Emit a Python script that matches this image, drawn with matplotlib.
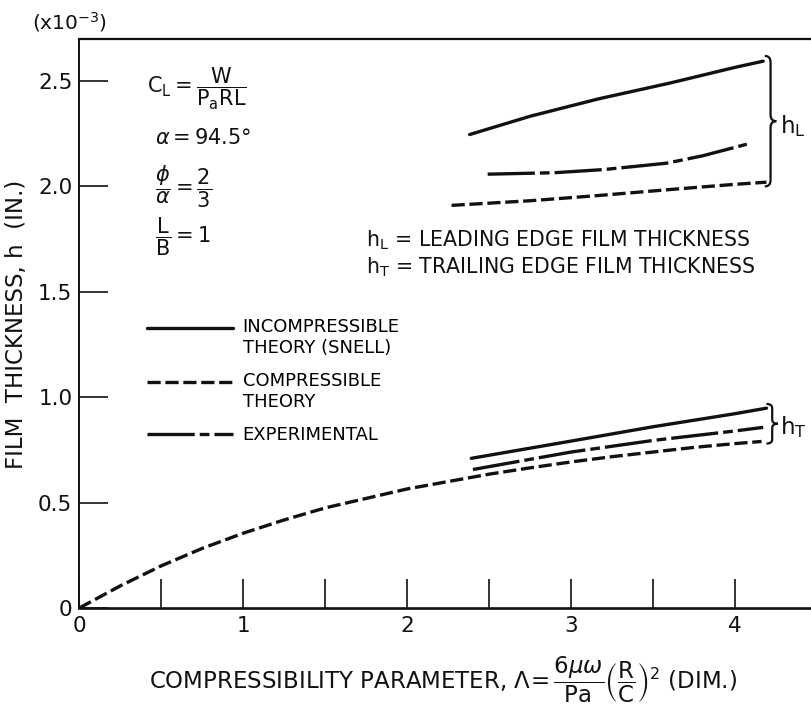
import matplotlib
matplotlib.use("Agg")
import matplotlib.pyplot as plt
from matplotlib.path import Path
from matplotlib.patches import PathPatch
from matplotlib.legend_handler import HandlerLine2D

plt.rcParams['font.family'] = ['DejaVu Sans']
plt.rcParams['mathtext.fontset'] = 'dejavusans'
plt.rcParams['lines.scale_dashes'] = False

# ---- data (film thickness in units of 1e-3 in.) ----
comp_T_x = [0, 0.25, 0.5, 0.75, 1.0, 1.25, 1.5, 1.75, 2.0, 2.25, 2.5, 2.75, 3.0, 3.25, 3.5, 3.75, 4.0, 4.16]
comp_T_h = [0, 0.105, 0.20, 0.283, 0.355, 0.418, 0.475, 0.52, 0.565, 0.60, 0.635, 0.665, 0.693, 0.718, 0.74, 0.762, 0.78, 0.79]
incomp_T_x = [2.39, 3.0, 3.5, 4.0, 4.19]
incomp_T_h = [0.71, 0.792, 0.86, 0.922, 0.948]
exp_T_x = [2.40, 3.0, 3.5, 4.0, 4.17]
exp_T_h = [0.657, 0.74, 0.795, 0.84, 0.857]
incomp_L_x = [2.38, 2.75, 3.17, 3.6, 4.0, 4.17]
incomp_L_h = [2.246, 2.333, 2.416, 2.49, 2.565, 2.594]
comp_L_x = [2.27, 2.75, 3.17, 3.6, 4.0, 4.19]
comp_L_h = [1.91, 1.932, 1.957, 1.985, 2.01, 2.02]
exp_L_x = [2.49, 2.9, 3.2, 3.58, 3.8, 4.07]
exp_L_h = [2.058, 2.065, 2.08, 2.11, 2.145, 2.20]

x_major = [0, 1, 2, 3, 4]
x_minor = [0.5, 1.5, 2.5, 3.5]
y_ticks = [0, 0.5, 1.0, 1.5, 2.0, 2.5]
y_labels = ['0', '0.5', '1.0', '1.5', '2.0', '2.5']
legend_labels = ['INCOMPRESSIBLE\nTHEORY (SNELL)', 'COMPRESSIBLE\nTHEORY', 'EXPERIMENTAL']

SOLID = '-'
DASHED = (0, (9.5, 3.4))
DASHDOT = (0, (34.0, 3.6, 7.0, 3.6))
LW = 2.4
INK = '#111111'

W, H = 811, 704
fig = plt.figure(figsize=(W / 100, H / 100), dpi=100)
ax = fig.add_axes([79.3 / W, 1 - 608 / H, (W - 79.3) / W, (608 - 39) / H])
ax.set_xlim(0, (W - 79.3) / 164.0)
ax.set_ylim(0, (608 - 39) / 210.8)

ax.spines['right'].set_visible(False)
ax.spines['bottom'].set_linewidth(1.9)
ax.spines['left'].set_linewidth(1.4)
ax.spines['top'].set_linewidth(1.6)
for s in ax.spines.values():
    s.set_color(INK)

ax.set_xticks(x_major)
ax.set_xticklabels([str(v) for v in x_major])
ax.set_xticks(x_minor, minor=True)
ax.set_yticks(y_ticks)
ax.set_yticklabels(y_labels)
ax.tick_params(axis='both', which='both', direction='in', length=21, width=1.2,
               colors=INK, labelsize=15.5)
ax.tick_params(axis='x', which='major', pad=6)
ax.tick_params(axis='y', which='major', pad=5)
ax.tick_params(axis='y', which='both', right=False)
ax.tick_params(axis='x', which='both', top=False)

# ---- curves ----
l1, = ax.plot(incomp_T_x, incomp_T_h, ls=SOLID, lw=LW, color=INK,
              label=legend_labels[0], solid_capstyle='round')
l2, = ax.plot(comp_T_x, comp_T_h, ls=DASHED, lw=LW, color=INK, label=legend_labels[1])
l3, = ax.plot(exp_T_x, exp_T_h, ls=DASHDOT, lw=LW, color=INK, label=legend_labels[2])
ax.plot(incomp_L_x, incomp_L_h, ls=SOLID, lw=LW, color=INK, solid_capstyle='round')
ax.plot(comp_L_x, comp_L_h, ls=DASHED, lw=LW, color=INK)
ax.plot(exp_L_x, exp_L_h, ls=DASHDOT, lw=LW, color=INK)


class TopLineHandler(HandlerLine2D):
    """Align the legend key with the first line of a multi-line label."""
    def __init__(self, shift, **kw):
        super().__init__(**kw)
        self.shift = shift

    def create_artists(self, legend, orig_handle, xdescent, ydescent, width, height,
                       fontsize, trans):
        return super().create_artists(legend, orig_handle, xdescent,
                                      ydescent - self.shift * fontsize,
                                      width, height, fontsize, trans)


leg = ax.legend(handles=[l1, l2, l3], loc='upper left',
                bbox_to_anchor=((147 - 79.3) / (W - 79.3), (608 - 318) / 569.0),
                frameon=False, fontsize=13, handlelength=4.75, handletextpad=0.55,
                labelspacing=0.85, borderaxespad=0, borderpad=0,
                handler_map={l1: TopLineHandler(1.15), l2: TopLineHandler(1.15),
                             l3: TopLineHandler(0.0)})


# ---- braces ----
def brace(xl, w, ytop, ybot, r):
    ymid = 0.5 * (ytop + ybot)
    xm = xl + w * 0.5
    verts = [(xl, ytop), (xm, ytop), (xm, ytop - r),
             (xm, ymid + r), (xm, ymid), (xl + w, ymid),
             (xm, ymid), (xm, ymid - r),
             (xm, ybot + r), (xm, ybot), (xl, ybot)]
    codes = [Path.MOVETO, Path.CURVE3, Path.CURVE3,
             Path.LINETO, Path.CURVE3, Path.CURVE3,
             Path.CURVE3, Path.CURVE3,
             Path.LINETO, Path.CURVE3, Path.CURVE3]
    ax.add_patch(PathPatch(Path(verts, codes), fill=False, lw=1.6,
                           edgecolor=INK, clip_on=False))

brace(max(incomp_L_x) + 0.01, 0.07, max(incomp_L_h) + 0.025, max(comp_L_h) - 0.02, 0.03)
brace(max(incomp_T_x) + 0.0, 0.07, max(incomp_T_h) + 0.02, max(comp_T_h) - 0.01, 0.02)
ax.text(4.27, 2.285, r'$\mathrm{h_L}$', fontsize=16.5, va='center', ha='left', color=INK)
ax.text(4.27, 0.86, r'$\mathrm{h_T}$', fontsize=16.5, va='center', ha='left', color=INK)

# ---- annotations ----
ax.text(1.75, 1.745, r'$\mathrm{h_L}$ = LEADING EDGE FILM THICKNESS', fontsize=14.8,
        va='center', ha='left', color=INK)
ax.text(1.75, 1.615, r'$\mathrm{h_T}$ = TRAILING EDGE FILM THICKNESS', fontsize=14.8,
        va='center', ha='left', color=INK)

ax.text(0.41, 2.46, r'$\mathrm{C_L} = \dfrac{\mathrm{W}}{\mathrm{P_a RL}}$', fontsize=15,
        va='center', ha='left', color=INK)
ax.text(0.46, 2.23, r'$\alpha = \mathrm{94.5}°$', fontsize=15,
        va='center', ha='left', color=INK)
ax.text(0.46, 2.0, r'$\dfrac{\phi}{\alpha} = \dfrac{2}{3}$', fontsize=15,
        va='center', ha='left', color=INK)
ax.text(0.46, 1.76, r'$\dfrac{\mathrm{L}}{\mathrm{B}} = \mathrm{1}$', fontsize=15,
        va='center', ha='left', color=INK)

# ---- axis labels ----
ax.set_xlabel(r'COMPRESSIBILITY PARAMETER, $\Lambda\!=\dfrac{\mathrm{6}\mu\omega}{\mathrm{Pa}}'
              r'\left(\dfrac{\mathrm{R}}{\mathrm{C}}\right)^{\mathrm{2}}$ (DIM.)',
              fontsize=16.5, color=INK)
ax.xaxis.set_label_coords((443 - 79.3) / (W - 79.3), -(672 - 608) / 569.0)
ax.xaxis.label.set_va('center_baseline')
ax.set_ylabel('FILM  THICKNESS, h  (IN.)', fontsize=16.5, color=INK)
ax.yaxis.set_label_coords(-(79.3 - 17) / (W - 79.3), (608 - 324) / 569.0)
ax.yaxis.label.set_va('center')

fig.text(32 / W, 1 - 22 / H, r'(x10$^{-3}$)', fontsize=14.5, va='center', ha='left', color=INK)

fig.savefig('out.png', dpi=100)
